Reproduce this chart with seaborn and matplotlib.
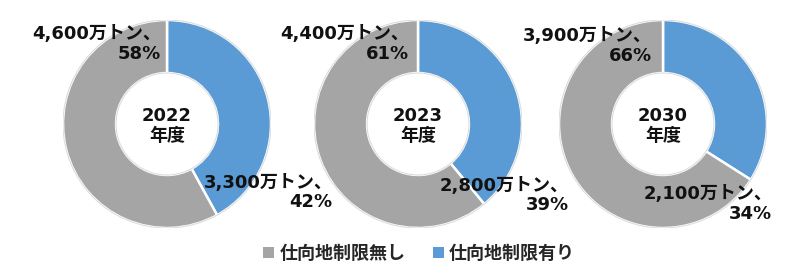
import matplotlib
matplotlib.use("Agg")
import matplotlib.pyplot as plt
from matplotlib.patches import Patch, Circle
import seaborn as sns

# ---- data ----
years = ["2022", "2023", "2030"]
series_names = ["仕向地制限無し", "仕向地制限有り"]
no_restrict_vol = ["4,600", "4,400", "3,900"]
no_restrict_pct = [58, 61, 66]
restrict_vol = ["3,300", "2,800", "2,100"]
restrict_pct = [42, 39, 34]

sns.set_theme(style="white")
FAM = ['DejaVu Sans', 'Noto Sans CJK JP']
plt.rcParams['font.family'] = FAM

GRAY = "#A5A5A5"
BLUE = "#5B9BD5"

W, H = 800, 278
fig = plt.figure(figsize=(W / 100, H / 100), dpi=100)

centers_x = [167, 418, 663]
center_y = 124
R = 104
# label offsets (in radius units)
gray_pos = [(-0.06, 0.77), (-0.09, 0.77), (-0.11, 0.75)]
blue_pos = [(1.59, -0.66), (1.45, -0.69), (1.05, -0.77)]
FS = 13

for i, cx in enumerate(centers_x):
    ax = fig.add_axes([(cx - R) / W, (H - center_y - R) / H, 2 * R / W, 2 * R / H])
    ax.pie([restrict_pct[i], no_restrict_pct[i]], colors=[BLUE, GRAY],
           startangle=90, counterclock=False, radius=1,
           wedgeprops=dict(width=0.51, edgecolor="white", linewidth=1.8))
    ax.add_patch(Circle((0, 0), 1.0, fill=False, edgecolor="#DDDDDD", linewidth=0.8))
    ax.add_patch(Circle((0, 0), 0.49, fill=False, edgecolor="#DDDDDD", linewidth=0.8))
    ax.set_xlim(-1, 1)
    ax.set_ylim(-1, 1)
    ax.set_aspect("equal")
    ax.axis("off")
    ax.text(0, -0.02, f"{years[i]}\n年度", ha="center", va="center",
            fontsize=FS, fontweight="bold", color="#111111", linespacing=1.15)
    gx, gy = gray_pos[i]
    ax.text(gx, gy, f"{no_restrict_vol[i]}万トン、\n{no_restrict_pct[i]}%",
            ha="right", va="center", multialignment="right",
            fontsize=FS, fontweight="bold", color="#111111", linespacing=1.1,
            clip_on=False)
    bx, by = blue_pos[i]
    ax.text(bx, by, f"{restrict_vol[i]}万トン、\n{restrict_pct[i]}%",
            ha="right", va="center", multialignment="right",
            fontsize=FS, fontweight="bold", color="#111111", linespacing=1.1,
            clip_on=False)

handles = [Patch(facecolor=GRAY, edgecolor="none"), Patch(facecolor=BLUE, edgecolor="none")]
leg = fig.legend(handles, series_names, loc="center", bbox_to_anchor=(0.524, 1 - 254 / H),
                 ncol=2, frameon=False, handlelength=0.6, handleheight=0.6,
                 handletextpad=0.3, columnspacing=1.5,
                 prop={"size": FS, "weight": "bold", "family": FAM})

fig.savefig("out.png", dpi=100, facecolor="white")
